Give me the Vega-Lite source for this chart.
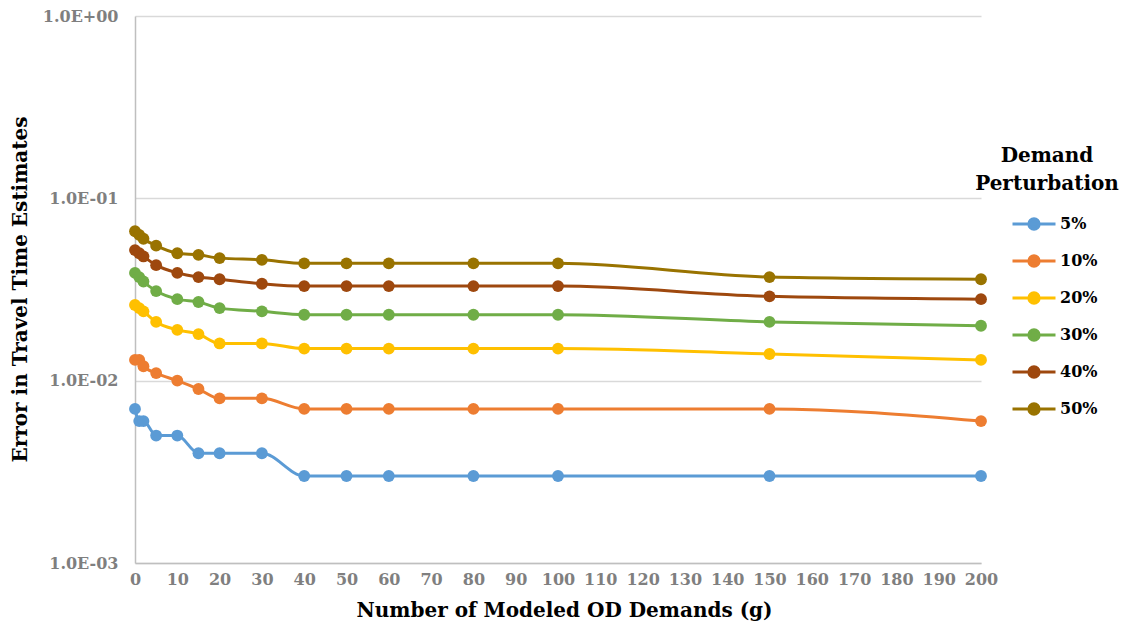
{
  "$schema": "https://vega.github.io/schema/vega-lite/v6.json",
  "width": 846,
  "height": 547,
  "autosize": "none",
  "padding": {"left": 135, "top": 16, "right": 142, "bottom": 66},
  "background": "white",
  "config": {
    "font": "DejaVu Serif",
    "view": {"stroke": null},
    "axis": {
      "labelFont": "DejaVu Serif",
      "labelFontWeight": "bold",
      "labelColor": "#7f7f7f",
      "labelFontSize": 16,
      "titleFont": "DejaVu Serif",
      "titleFontWeight": "bold",
      "titleFontSize": 20,
      "titleColor": "#000000",
      "domainColor": "#bfbfbf",
      "domainWidth": 1.5,
      "gridColor": "#d9d9d9",
      "gridWidth": 1.5,
      "ticks": false
    }
  },
  "data": {
    "values": [
      {"g": 0, "p": "5%", "e": 0.007}, {"g": 1, "p": "5%", "e": 0.006}, {"g": 2, "p": "5%", "e": 0.006}, {"g": 5, "p": "5%", "e": 0.005}, {"g": 10, "p": "5%", "e": 0.005}, {"g": 15, "p": "5%", "e": 0.004}, {"g": 20, "p": "5%", "e": 0.004}, {"g": 30, "p": "5%", "e": 0.004}, {"g": 40, "p": "5%", "e": 0.003}, {"g": 50, "p": "5%", "e": 0.003}, {"g": 60, "p": "5%", "e": 0.003}, {"g": 80, "p": "5%", "e": 0.003}, {"g": 100, "p": "5%", "e": 0.003}, {"g": 150, "p": "5%", "e": 0.003}, {"g": 200, "p": "5%", "e": 0.003},
      {"g": 0, "p": "10%", "e": 0.013}, {"g": 1, "p": "10%", "e": 0.013}, {"g": 2, "p": "10%", "e": 0.012}, {"g": 5, "p": "10%", "e": 0.011}, {"g": 10, "p": "10%", "e": 0.010}, {"g": 15, "p": "10%", "e": 0.009}, {"g": 20, "p": "10%", "e": 0.008}, {"g": 30, "p": "10%", "e": 0.008}, {"g": 40, "p": "10%", "e": 0.007}, {"g": 50, "p": "10%", "e": 0.007}, {"g": 60, "p": "10%", "e": 0.007}, {"g": 80, "p": "10%", "e": 0.007}, {"g": 100, "p": "10%", "e": 0.007}, {"g": 150, "p": "10%", "e": 0.007}, {"g": 200, "p": "10%", "e": 0.006},
      {"g": 0, "p": "20%", "e": 0.026}, {"g": 1, "p": "20%", "e": 0.025}, {"g": 2, "p": "20%", "e": 0.024}, {"g": 5, "p": "20%", "e": 0.021}, {"g": 10, "p": "20%", "e": 0.019}, {"g": 15, "p": "20%", "e": 0.018}, {"g": 20, "p": "20%", "e": 0.016}, {"g": 30, "p": "20%", "e": 0.016}, {"g": 40, "p": "20%", "e": 0.015}, {"g": 50, "p": "20%", "e": 0.015}, {"g": 60, "p": "20%", "e": 0.015}, {"g": 80, "p": "20%", "e": 0.015}, {"g": 100, "p": "20%", "e": 0.015}, {"g": 150, "p": "20%", "e": 0.014}, {"g": 200, "p": "20%", "e": 0.013},
      {"g": 0, "p": "30%", "e": 0.039}, {"g": 1, "p": "30%", "e": 0.037}, {"g": 2, "p": "30%", "e": 0.035}, {"g": 5, "p": "30%", "e": 0.031}, {"g": 10, "p": "30%", "e": 0.028}, {"g": 15, "p": "30%", "e": 0.027}, {"g": 20, "p": "30%", "e": 0.025}, {"g": 30, "p": "30%", "e": 0.024}, {"g": 40, "p": "30%", "e": 0.023}, {"g": 50, "p": "30%", "e": 0.023}, {"g": 60, "p": "30%", "e": 0.023}, {"g": 80, "p": "30%", "e": 0.023}, {"g": 100, "p": "30%", "e": 0.023}, {"g": 150, "p": "30%", "e": 0.021}, {"g": 200, "p": "30%", "e": 0.020},
      {"g": 0, "p": "40%", "e": 0.052}, {"g": 1, "p": "40%", "e": 0.050}, {"g": 2, "p": "40%", "e": 0.048}, {"g": 5, "p": "40%", "e": 0.043}, {"g": 10, "p": "40%", "e": 0.039}, {"g": 15, "p": "40%", "e": 0.037}, {"g": 20, "p": "40%", "e": 0.036}, {"g": 30, "p": "40%", "e": 0.034}, {"g": 40, "p": "40%", "e": 0.033}, {"g": 50, "p": "40%", "e": 0.033}, {"g": 60, "p": "40%", "e": 0.033}, {"g": 80, "p": "40%", "e": 0.033}, {"g": 100, "p": "40%", "e": 0.033}, {"g": 150, "p": "40%", "e": 0.029}, {"g": 200, "p": "40%", "e": 0.028},
      {"g": 0, "p": "50%", "e": 0.066}, {"g": 1, "p": "50%", "e": 0.063}, {"g": 2, "p": "50%", "e": 0.060}, {"g": 5, "p": "50%", "e": 0.055}, {"g": 10, "p": "50%", "e": 0.050}, {"g": 15, "p": "50%", "e": 0.049}, {"g": 20, "p": "50%", "e": 0.047}, {"g": 30, "p": "50%", "e": 0.046}, {"g": 40, "p": "50%", "e": 0.044}, {"g": 50, "p": "50%", "e": 0.044}, {"g": 60, "p": "50%", "e": 0.044}, {"g": 80, "p": "50%", "e": 0.044}, {"g": 100, "p": "50%", "e": 0.044}, {"g": 150, "p": "50%", "e": 0.037}, {"g": 200, "p": "50%", "e": 0.036}
    ]
  },
  "encoding": {
    "x": {
      "field": "g",
      "type": "quantitative",
      "scale": {"domain": [0, 200], "nice": false, "zero": false},
      "axis": {
        "title": "Number of Modeled OD Demands (g)",
        "values": [0, 10, 20, 30, 40, 50, 60, 70, 80, 90, 100, 110, 120, 130, 140, 150, 160, 170, 180, 190, 200],
        "grid": false,
        "labelPadding": 8,
        "titleX": 429,
        "titleY": 47,
        "titleBaseline": "middle",
        "labelFlush": false,
        "labelOverlap": false
      }
    },
    "y": {
      "field": "e",
      "type": "quantitative",
      "scale": {"type": "log", "domain": [0.001, 1], "nice": false},
      "axis": {
        "title": "Error in Travel Time Estimates",
        "values": [0.001, 0.01, 0.1, 1],
        "labelExpr": "datum.value >= 1 ? '1.0E+00' : '1.0E-0' + round(-log(datum.value) / LN10)",
        "labelPadding": 17,
        "titleX": -115,
        "titleY": 273,
        "titleAngle": -90,
        "titleBaseline": "middle",
        "labelFlush": false
      }
    },
    "color": {
      "field": "p",
      "type": "nominal",
      "sort": ["5%", "10%", "20%", "30%", "40%", "50%"],
      "scale": {
        "domain": ["5%", "10%", "20%", "30%", "40%", "50%"],
        "range": ["#5b9bd5", "#ed7d31", "#ffc000", "#70ad47", "#9e480e", "#997300"]
      },
      "legend": {
        "title": ["Demand", "Perturbation"],
        "orient": "none",
        "legendX": 840,
        "legendY": 130,
        "titleFont": "DejaVu Serif",
        "titleFontWeight": "bold",
        "titleFontSize": 20,
        "titleColor": "#000000",
        "titleAlign": "center",
        "titleAnchor": "middle",
        "titleLineHeight": 28,
        "titlePadding": 7,
        "labelFont": "DejaVu Serif",
        "labelFontWeight": "bold",
        "labelFontSize": 16,
        "labelColor": "#000000",
        "labelOffset": 3,
        "symbolOffset": 15,
        "symbolType": "M-1,0L1,0M-0.24,0A0.24,0.24,0,1,0,0.24,0A0.24,0.24,0,1,0,-0.24,0Z",
        "symbolSize": 1849,
        "symbolStrokeWidth": 3,
        "rowPadding": 2,
        "encode": {
          "symbols": {
            "update": {
              "fill": {"scale": "color", "field": "value"},
              "stroke": {"scale": "color", "field": "value"},
              "strokeWidth": {"value": 3},
              "opacity": {"value": 1}
            }
          }
        }
      }
    }
  },
  "layer": [
    {"mark": {"type": "line", "interpolate": "monotone", "strokeWidth": 3}},
    {"mark": {"type": "point", "filled": true, "size": 140, "opacity": 1}}
  ]
}
